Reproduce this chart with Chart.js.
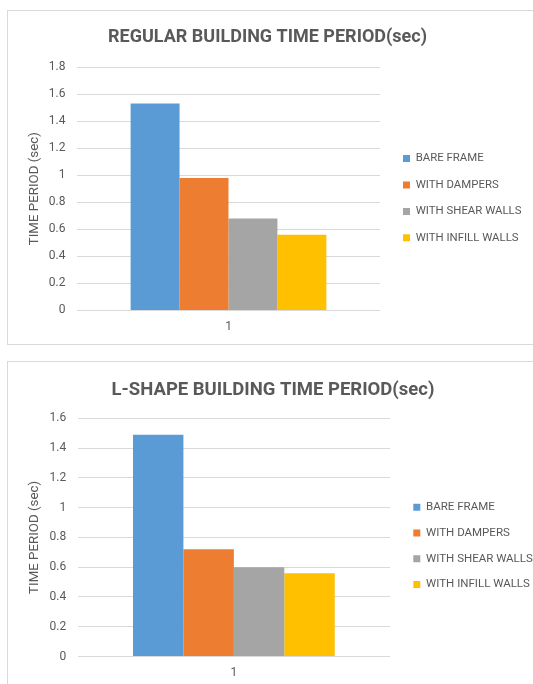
<!DOCTYPE html>
<html>
<head>
<meta charset="utf-8">
<title>Building time period</title>
<script src="https://cdn.jsdelivr.net/npm/chart.js@4/dist/chart.umd.min.js"></script>
<style>
  html, body { margin: 0; padding: 0; background: #fff; overflow: hidden; width: 533px; height: 684px; }
  .frame { position: absolute; border: 1px solid #d9d9d9; box-sizing: border-box; }
  canvas { position: absolute; }
</style>
</head>
<body>
<div class="frame" style="left:7px; top:10px; width:560px; height:335px"></div>
<canvas id="regular" width="519" height="333" style="left:8px; top:11px"></canvas>
<div class="frame" style="left:7px; top:361px; width:560px; height:400px"></div>
<canvas id="lshape" width="530" height="330" style="left:8px; top:362px"></canvas>

<script>
// Data
const categories = ['1'];
const seriesNames = ['BARE FRAME', 'WITH DAMPERS', 'WITH SHEAR WALLS', 'WITH INFILL WALLS'];
const regularPeriod = [1.53, 0.98, 0.68, 0.56];
const lShapePeriod = [1.49, 0.72, 0.60, 0.56];
const regularTicks = ['0', '0.2', '0.4', '0.6', '0.8', '1', '1.2', '1.4', '1.6', '1.8'];
const lShapeTicks = ['0', '0.2', '0.4', '0.6', '0.8', '1', '1.2', '1.4', '1.6'];
const seriesColors = ['#5b9bd5', '#ed7d31', '#a5a5a5', '#ffc000'];

const TEXT = '#595959';
const GRID = '#d9d9d9';
Chart.defaults.font.family = 'Roboto, "Liberation Sans", sans-serif';

// Legend sized to a fixed column and nudged into place after layout.
const legendBox = {
  id: 'legendBox',
  beforeInit(chart, args, opts) {
    const lg = chart.legend;
    const fit = lg.fit;
    lg.fit = function () { fit.call(this); this.width = opts.width; };
  },
  afterLayout(chart, args, opts) {
    const lg = chart.legend;
    lg.left += opts.dx; lg.right += opts.dx;
    lg.top += opts.dy; lg.bottom += opts.dy;
  }
};

function periodChart(id, cfg) {
  const tickLabels = cfg.ticks;
  return new Chart(document.getElementById(id), {
    type: 'bar',
    data: {
      labels: categories,
      datasets: seriesNames.map((name, i) => ({
        label: name,
        data: [cfg.values[i]],
        backgroundColor: seriesColors[i],
        borderWidth: 0,
        barPercentage: 1,
        categoryPercentage: 0.646
      }))
    },
    plugins: [legendBox],
    options: {
      responsive: false,
      devicePixelRatio: 1,
      animation: false,
      layout: { padding: { left: 0, right: 0, top: 0, bottom: cfg.padBottom } },
      plugins: {
        tooltip: { enabled: false },
        title: {
          display: true,
          text: cfg.title,
          color: TEXT,
          font: { size: cfg.titleSize, weight: 'bold' },
          padding: { top: cfg.titleTop, bottom: cfg.titleBottom }
        },
        legend: {
          position: 'right',
          fullSize: false,
          align: 'center',
          labels: {
            boxWidth: 7,
            boxHeight: 7,
            padding: cfg.legendPad,
            color: TEXT,
            font: { size: cfg.legendFont }
          }
        },
        legendBox: { width: cfg.legendWidth, dx: cfg.legendDx, dy: cfg.legendDy }
      },
      scales: {
        x: {
          grid: { display: false, drawTicks: false },
          border: { display: false },
          ticks: { color: TEXT, font: { size: 12 }, padding: cfg.xPad }
        },
        y: {
          min: 0,
          max: parseFloat(tickLabels[tickLabels.length - 1]),
          afterFit(scale) { scale.width = cfg.yWidth; },
          grid: { color: GRID, lineWidth: 1, drawTicks: false },
          border: { display: false },
          ticks: {
            stepSize: 0.2,
            color: TEXT,
            font: { size: 12 },
            padding: 11.5,
            callback: (v, i) => tickLabels[i]
          },
          title: {
            display: true,
            text: 'TIME PERIOD (sec)',
            color: TEXT,
            font: { size: 13.3 },
            padding: { top: 19, bottom: 0 }
          }
        }
      }
    }
  });
}

periodChart('regular', {
  title: 'REGULAR BUILDING TIME PERIOD(sec)',
  values: regularPeriod,
  ticks: regularTicks,
  titleSize: 18, titleTop: 15.5, titleBottom: 18.9,
  padBottom: 1.2, xPad: 9,
  yWidth: 69,
  legendWidth: 147, legendDx: 8, legendDy: 9.5, legendPad: 15, legendFont: 11.4
});

periodChart('lshape', {
  title: 'L-SHAPE BUILDING TIME PERIOD(sec)',
  values: lShapePeriod,
  ticks: lShapeTicks,
  titleSize: 18.5, titleTop: 17.4, titleBottom: 16.7,
  padBottom: 2.1, xPad: 9.5,
  yWidth: 69.7,
  legendWidth: 148, legendDx: 9, legendDy: 8.5, legendPad: 14.3, legendFont: 11.5
});
</script>
</body>
</html>
